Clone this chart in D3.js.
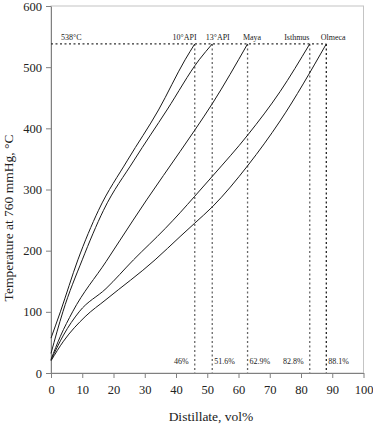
<!DOCTYPE html>
<html>
<head>
<meta charset="utf-8">
<script src="https://cdn.jsdelivr.net/npm/d3@7"></script>
<style>
    body { margin: 0; background: #fff; }
    text { font-family: "Liberation Serif", "DejaVu Serif", serif; fill: #222; }
</style>
</head>
<body>
<svg id="chart" width="373" height="424"></svg>
<script>
// curves: distillate vol% vs temperature °C
const crudes = ["10°API", "13°API", "Maya", "Isthmus", "Olmeca"];
const vol10 = [0, 3, 8.6, 15.2, 24.5, 34.4, 42.9, 46];
const temp10 = [57, 100, 185, 266, 348, 430, 512, 538];
const vol13 = [0, 3.8, 10, 16.8, 26.6, 37.1, 47.4, 51.6];
const temp13 = [32, 100, 185, 266, 348, 430, 512, 538];
const volMaya = [0, 3, 6.9, 17.6, 26.3, 30.6, 41.3, 46, 51.7, 62.9];
const tempMaya = [22, 60, 100, 182, 250, 283, 362, 397, 441, 538];
const volIsthmus = [0, 4, 9, 17.6, 26.4, 36.5, 41.3, 46, 51.7, 63.1, 73.3, 82.8];
const tempIsthmus = [21, 62, 100, 138, 185, 236, 262, 289, 322, 390, 460, 538];
const volOlmeca = [0, 4, 10.9, 17.6, 33.3, 41.3, 46, 51.7, 63.1, 73.3, 88.1];
const tempOlmeca = [20, 52, 92, 120, 185, 223, 245, 272, 340, 412, 538];

const cutTemp = 538;
const cutVol = [46, 51.6, 62.9, 82.8, 88.1];
const cutLabels = ["46%", "51.6%", "62.9%", "82.8%", "88.1%"];
const labelSide = ["left", "right", "right", "left", "right"];
const xTicks = [0, 10, 20, 30, 40, 50, 60, 70, 80, 90, 100];
const yTicks = [0, 100, 200, 300, 400, 500, 600];

const series = [
    [vol10, temp10],
    [vol13, temp13],
    [volMaya, tempMaya],
    [volIsthmus, tempIsthmus],
    [volOlmeca, tempOlmeca]
];

const svg = d3.select("#chart");
const x = d3.scaleLinear().domain([0, 100]).range([51, 363.5]);
const y = d3.scaleLinear().domain([0, 600]).range([373, 6]);

// light frame on top and right
svg.append("rect")
    .attr("x", x(0)).attr("y", y(600))
    .attr("width", x(100) - x(0)).attr("height", y(0) - y(600))
    .attr("fill", "none").attr("stroke", "#c4c4c4").attr("stroke-width", 1);

const xAxis = svg.append("g")
    .attr("transform", `translate(0,${y(0)})`)
    .call(d3.axisBottom(x).tickValues(xTicks).tickSize(5).tickPadding(7).tickSizeOuter(0));
const yAxis = svg.append("g")
    .attr("transform", `translate(${x(0)},0)`)
    .call(d3.axisLeft(y).tickValues(yTicks).tickSize(5).tickPadding(4).tickSizeOuter(0));

[xAxis, yAxis].forEach(g => {
    g.select(".domain").attr("stroke", "#808080");
    g.selectAll(".tick line").attr("stroke", "#808080");
    g.selectAll(".tick text")
        .attr("font-family", "Liberation Serif")
        .attr("font-size", 12.5)
        .attr("fill", "#222");
});

// 538°C cut line
svg.append("line")
    .attr("x1", x(0)).attr("x2", x(d3.max(cutVol)))
    .attr("y1", y(cutTemp)).attr("y2", y(cutTemp))
    .attr("stroke", "#333").attr("stroke-width", 1.3)
    .attr("stroke-dasharray", "2,2.5");

svg.selectAll(".cut")
    .data(cutVol)
    .join("line")
    .attr("class", "cut")
    .attr("x1", d => x(d)).attr("x2", d => x(d))
    .attr("y1", y(cutTemp)).attr("y2", y(0))
    .attr("stroke", (d, i) => i === 4 ? "#222" : "#666").attr("stroke-width", 1.3)
    .attr("stroke-dasharray", "2,2.5");

// distillation curves
const line = d3.line()
    .x(d => x(d[0]))
    .y(d => y(d[1]))
    .curve(d3.curveMonotoneX);

svg.selectAll(".curve")
    .data(series)
    .join("path")
    .attr("class", "curve")
    .attr("d", s => line(s[0].map((v, i) => [v, s[1][i]])))
    .attr("fill", "none")
    .attr("stroke", "#1a1a1a")
    .attr("stroke-width", 1);

// crude names above the cut line (start positions in vol%)
const nameStart = [38.9, 49.5, 61.4, 74.6, 86.3];
svg.selectAll(".name")
    .data(crudes)
    .join("text")
    .attr("class", "name")
    .attr("x", (d, i) => x(nameStart[i]))
    .attr("y", y(cutTemp) - 4)
    .attr("font-size", 8)
    .text(d => d);

svg.append("text")
    .attr("x", x(3.2)).attr("y", y(cutTemp) - 4)
    .attr("font-size", 8)
    .text("538°C");

// cut percentages near the bottom
svg.selectAll(".pct")
    .data(cutVol)
    .join("text")
    .attr("class", "pct")
    .attr("x", (d, i) => labelSide[i] === "left" ? x(d) - 6 : x(d) + 2)
    .attr("y", y(0) - 9)
    .attr("text-anchor", (d, i) => labelSide[i] === "left" ? "end" : "start")
    .attr("font-size", 8)
    .text((d, i) => cutLabels[i]);

// axis titles
svg.append("text")
    .attr("x", 211).attr("y", 421)
    .attr("text-anchor", "middle")
    .attr("font-size", 13.5)
    .text("Distillate, vol%");

svg.append("text")
    .attr("transform", "translate(13,218) rotate(-90)")
    .attr("text-anchor", "middle")
    .attr("font-size", 13.5)
    .text("Temperature at 760 mmHg, °C");
</script>
</body>
</html>
